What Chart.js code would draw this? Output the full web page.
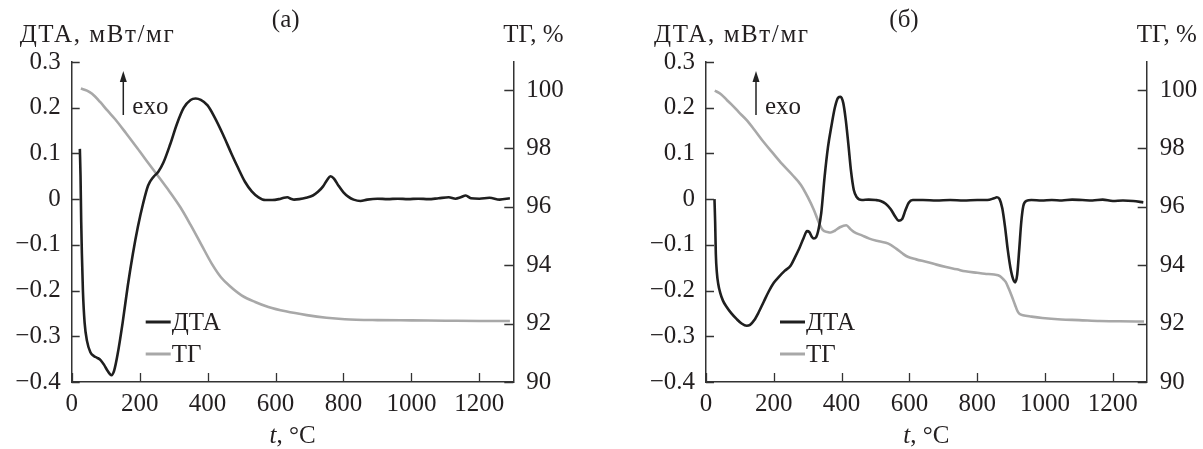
<!DOCTYPE html>
<html><head><meta charset="utf-8">
<script src="https://cdn.jsdelivr.net/npm/chart.js@4"></script>
<style>
html,body{margin:0;padding:0;background:#fff;width:1203px;height:449px;overflow:hidden}
canvas{position:absolute;top:0}
#ca{left:0}
#cb{left:601px}
</style></head><body>
<canvas id="ca" width="601" height="449"></canvas>
<canvas id="cb" width="602" height="449"></canvas>
<script>
// ---------- data ----------
const xTicks = [0, 200, 400, 600, 800, 1000, 1200];
const dtaTicks = [0.3, 0.2, 0.1, 0, -0.1, -0.2, -0.3, -0.4];
const tgTicks = [90, 92, 94, 96, 98, 100];
const seriesNames = ['ДТА', 'ТГ'];
const panelLabels = ['(а)', '(б)'];

// panel (a) DTA
const dtaTempA = [24, 26, 28, 30, 33, 38, 45, 55, 65, 75, 85, 95, 105, 117, 125, 135, 150, 165, 180, 195, 210, 225, 240, 255, 270, 290, 310, 330, 350, 365, 380, 400, 420, 445, 470, 490, 510, 530, 550, 570, 590, 610, 625, 635, 645, 655, 670, 690, 710, 725, 740, 752, 762, 772, 785, 800, 815, 830, 850, 870, 900, 930, 960, 990, 1020, 1050, 1080, 1110, 1130, 1145, 1160, 1175, 1200, 1230, 1260, 1290];
const dtaValA = [0.11, 0.05, -0.05, -0.12, -0.2, -0.27, -0.31, -0.335, -0.343, -0.347, -0.352, -0.362, -0.375, -0.385, -0.375, -0.34, -0.27, -0.19, -0.12, -0.06, -0.01, 0.03, 0.048, 0.06, 0.08, 0.12, 0.165, 0.2, 0.217, 0.22, 0.217, 0.205, 0.18, 0.142, 0.1, 0.068, 0.038, 0.017, 0.004, -0.002, -0.002, 0.0, 0.003, 0.004, 0.001, -0.001, 0.0, 0.003, 0.008, 0.016, 0.028, 0.042, 0.05, 0.045, 0.03, 0.015, 0.005, -0.001, -0.004, -0.001, 0.001, 0.0, 0.001, 0.0, 0.001, 0.0, 0.002, 0.004, 0.001, 0.004, 0.008, 0.002, 0.001, 0.003, -0.001, 0.002];
// panel (a) TG
const tgTempA = [27, 45, 60, 83, 105, 128, 160, 200, 237, 280, 319, 350, 380, 414, 440, 466, 500, 540, 579, 630, 692, 750, 804, 900, 1000, 1100, 1200, 1290];
const tgValA = [100.05, 99.98, 99.87, 99.6, 99.3, 99.0, 98.52, 97.9, 97.32, 96.65, 96.0, 95.38, 94.74, 94.02, 93.58, 93.28, 92.97, 92.74, 92.57, 92.42, 92.29, 92.2, 92.15, 92.12, 92.11, 92.1, 92.09, 92.09];

// panel (б) DTA
const dtaTempB = [25, 27, 29, 32, 36, 42, 50, 60, 75, 90, 105, 120, 130, 142, 155, 170, 185, 200, 215, 232, 250, 262, 275, 288, 298, 305, 312, 318, 325, 332, 340, 350, 360, 370, 380, 390, 397, 405, 412, 420, 428, 436, 445, 460, 480, 500, 515, 530, 545, 558, 568, 578, 588, 598, 610, 640, 680, 720, 760, 800, 830, 850, 858, 866, 874, 882, 890, 898, 906, 912, 918, 924, 930, 936, 945, 960, 990, 1020, 1050, 1080, 1110, 1140, 1170, 1200, 1230, 1260, 1290];
const dtaValB = [0.0, -0.05, -0.12, -0.16, -0.185, -0.205, -0.222, -0.235, -0.25, -0.262, -0.272, -0.277, -0.275, -0.265, -0.248, -0.225, -0.202, -0.183, -0.17, -0.157, -0.145, -0.128, -0.108, -0.085, -0.07, -0.072, -0.082, -0.086, -0.083, -0.066, -0.03, 0.05, 0.115, 0.16, 0.2, 0.222, 0.224, 0.21, 0.175, 0.12, 0.06, 0.02, 0.004, -0.002, -0.001, -0.002, -0.004, -0.01, -0.022, -0.038, -0.047, -0.044, -0.025, -0.008, -0.002, -0.002, -0.003, -0.002, -0.003, -0.002, -0.002, 0.002, 0.004, 0.0, -0.02, -0.06, -0.11, -0.15, -0.175, -0.182, -0.165, -0.11, -0.05, -0.015, -0.004, -0.002, -0.003, -0.002, -0.003, -0.001, -0.002, -0.003, -0.001, -0.004, -0.003, -0.004, -0.007];
// panel (б) TG
const tgTempB = [26, 45, 62, 80, 96, 120, 142, 170, 198, 225, 255, 280, 300, 318, 334, 345, 358, 368, 380, 395, 414, 425, 436, 460, 482, 510, 538, 561, 580, 595, 620, 652, 680, 708, 740, 765, 800, 822, 850, 867, 877, 884, 893, 901, 912, 918, 924, 935, 960, 992, 1048, 1100, 1162, 1220, 1292];
const tgValB = [99.98, 99.85, 99.65, 99.45, 99.25, 98.97, 98.65, 98.22, 97.83, 97.46, 97.09, 96.75, 96.34, 95.9, 95.43, 95.2, 95.14, 95.12, 95.18, 95.3, 95.37, 95.25, 95.14, 95.02, 94.91, 94.82, 94.74, 94.57, 94.4, 94.29, 94.2, 94.11, 94.02, 93.94, 93.86, 93.79, 93.74, 93.71, 93.68, 93.63, 93.52, 93.43, 93.2, 92.97, 92.63, 92.45, 92.34, 92.29, 92.24, 92.19, 92.14, 92.12, 92.09, 92.08, 92.07];

// ---------- rendering ----------
const FONT = "'Liberation Serif', 'Times New Roman', serif";
const FS = 25;
const INK = '#231f20';
const DTA_COLOR = '#1f1f1f';
const TG_COLOR = '#a8a8a8';
Chart.defaults.font.family = FONT;
Chart.defaults.font.size = FS;
Chart.defaults.color = INK;

const pts = (xs, ys) => xs.map((x, i) => ({x: x, y: ys[i]}));
const fmtDta = v => {
  const r = Math.round(v * 10) / 10;
  if (Math.abs(r) < 1e-9) return '0';
  return (r < 0 ? '\u2212' : '') + Math.abs(r).toFixed(1);
};
const setTicks = arr => (scale) => { scale.ticks = arr.map(v => ({value: v})); };

const decoPlugin = {
  id: 'deco',
  afterDraw(chart) {
    const o = chart.options.plugins.deco;
    const ctx = chart.ctx, ca = chart.chartArea;
    const sx = chart.scales.x, yl = chart.scales.yL, yr = chart.scales.yR;
    ctx.save();
    // inward tick marks
    ctx.strokeStyle = '#333';
    ctx.lineWidth = 1.3;
    ctx.beginPath();
    sx.ticks.forEach(t => { const p = Math.round(sx.getPixelForValue(t.value)) + 0.5; ctx.moveTo(p, ca.bottom); ctx.lineTo(p, ca.bottom - 9); });
    yl.ticks.forEach(t => { const p = Math.round(yl.getPixelForValue(t.value)) + 0.5; ctx.moveTo(ca.left, p); ctx.lineTo(ca.left + 8, p); });
    yr.ticks.forEach(t => { const p = Math.round(yr.getPixelForValue(t.value)) + 0.5; ctx.moveTo(ca.right, p); ctx.lineTo(ca.right - 9, p); });
    ctx.stroke();

    const font = FS + 'px ' + FONT;
    // axis titles at the top
    ctx.fillStyle = INK;
    ctx.font = font;
    ctx.textBaseline = 'alphabetic';
    ctx.textAlign = 'left';
    ctx.letterSpacing = '1.6px';
    ctx.fillText('ДТА, мВт/мг', ca.left - 52, 42);
    ctx.letterSpacing = '0px';
    ctx.fillText('ТГ, %', ca.right - 10, 42);
    ctx.textAlign = 'center';
    ctx.fillText(o.label, ca.left + o.labelDx, 27);

    // exo arrow
    const ax = ca.left + o.arrowDx;
    ctx.strokeStyle = '#222';
    ctx.lineWidth = 1.5;
    ctx.beginPath();
    ctx.moveTo(ax, 115); ctx.lineTo(ax, 80);
    ctx.stroke();
    ctx.fillStyle = '#222';
    ctx.beginPath();
    ctx.moveTo(ax, 71); ctx.lineTo(ax - 3.5, 82); ctx.lineTo(ax + 3.5, 82); ctx.closePath();
    ctx.fill();
    ctx.fillStyle = INK;
    ctx.textAlign = 'left';
    ctx.fillText('exo', ax + 9, 114);

    // legend
    const ys = [322, 354];
    chart.data.datasets.forEach((ds, i) => {
      ctx.strokeStyle = ds.borderColor;
      ctx.lineWidth = 3;
      ctx.beginPath();
      ctx.moveTo(ca.left + 74, ys[i]); ctx.lineTo(ca.left + 99, ys[i]);
      ctx.stroke();
      ctx.fillStyle = INK;
      ctx.textBaseline = 'middle';
      ctx.textAlign = 'left';
      ctx.fillText(ds.label, ca.left + 100, ys[i] + 1);
    });

    // x axis title: italic t
    ctx.textBaseline = 'alphabetic';
    ctx.font = 'italic ' + font;
    const w1 = ctx.measureText('t').width;
    ctx.font = font;
    const w2 = ctx.measureText(', °C').width;
    const cx = (ca.left + ca.right) / 2 - (w1 + w2) / 2;
    ctx.font = 'italic ' + font;
    ctx.fillText('t', cx, 443);
    ctx.font = font;
    ctx.fillText(', °C', cx + w1, 443);
    ctx.restore();
  }
};

function makeChart(id, dT, dV, gT, gV, panel) {
  return new Chart(document.getElementById(id), {
    type: 'line',
    data: {
      datasets: [
        {label: seriesNames[0], data: pts(dT, dV), yAxisID: 'yL', borderColor: DTA_COLOR, borderWidth: 2.6, pointRadius: 0, cubicInterpolationMode: 'monotone', fill: false},
        {label: seriesNames[1], data: pts(gT, gV), yAxisID: 'yR', borderColor: TG_COLOR, borderWidth: 2.6, pointRadius: 0, cubicInterpolationMode: 'monotone', fill: false}
      ]
    },
    options: {
      responsive: false,
      animation: false,
      devicePixelRatio: 1,
      layout: {padding: {top: 62, left: 0, right: 0, bottom: 0}},
      plugins: {
        legend: {display: false},
        tooltip: {enabled: false},
        deco: panel
      },
      scales: {
        x: {
          type: 'linear', position: 'bottom', min: 0, max: 1300,
          afterBuildTicks: setTicks(xTicks),
          afterFit: s => { s.height = 67; },
          grid: {display: true, drawOnChartArea: false, drawTicks: false},
          border: {display: true, color: '#333', width: 1.5},
          ticks: {padding: 7, maxRotation: 0, autoSkip: false, color: INK, font: {size: FS}, callback: v => String(v)}
        },
        yL: {
          type: 'linear', position: 'left', min: -0.4, max: 0.3,
          afterBuildTicks: setTicks(dtaTicks),
          afterFit: s => { s.width = panel.leftW; },
          grid: {display: true, drawOnChartArea: false, drawTicks: false},
          border: {display: true, color: '#333', width: 1.5},
          ticks: {padding: 11, autoSkip: false, color: INK, font: {size: FS}, callback: v => fmtDta(v)}
        },
        yR: {
          type: 'linear', position: 'right', min: 90, max: 100.96,
          afterBuildTicks: setTicks(tgTicks),
          afterFit: s => { s.width = panel.rightW; },
          grid: {display: true, drawOnChartArea: false, drawTicks: false},
          border: {display: true, color: '#333', width: 1.5},
          ticks: {padding: 13, autoSkip: false, color: INK, font: {size: FS}, callback: v => String(v)}
        }
      }
    },
    plugins: [decoPlugin]
  });
}

makeChart('ca', dtaTempA, dtaValA, tgTempA, tgValA, {label: panelLabels[0], labelDx: 214, arrowDx: 51.6, leftW: 71.7, rightW: 87.7});
makeChart('cb', dtaTempB, dtaValB, tgTempB, tgValB, {label: panelLabels[1], labelDx: 198, arrowDx: 50, leftW: 105, rightW: 56.3});
</script>
</body></html>
